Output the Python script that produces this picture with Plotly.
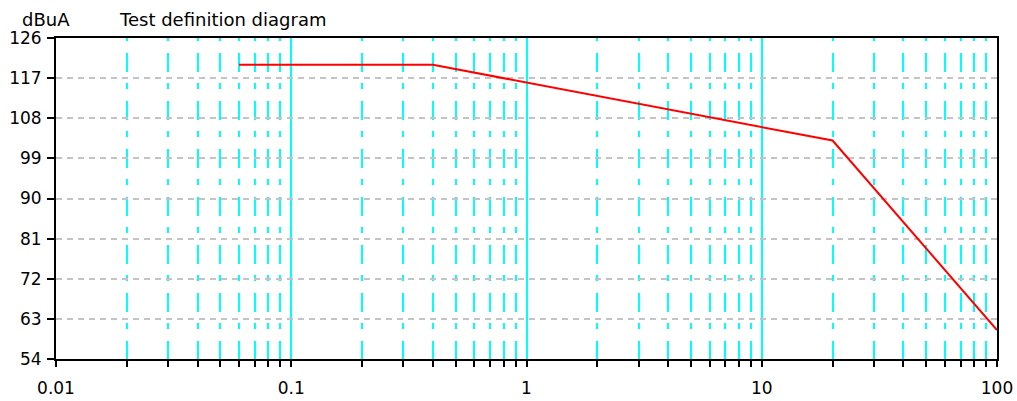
import plotly.graph_objects as go

# Data
freq = [0.06, 0.4, 20, 100]
level = [120, 120, 103, 60.5]

y_ticks = [54, 63, 72, 81, 90, 99, 108, 117, 126]
x_ticks = [0.01, 0.1, 1, 10, 100]
x_tick_labels = ["0.01", "0.1", "1", "10", "100"]
x_minor = [m * d for d in (0.01, 0.1, 1, 10) for m in range(2, 10)]

FONT = "DejaVu Sans, Verdana, sans-serif"

fig = go.Figure()
fig.add_trace(go.Scatter(
    x=freq, y=level, mode="lines",
    line=dict(color="#ff0000", width=2),
    showlegend=False, hoverinfo="skip",
))

fig.update_xaxes(
    type="log", range=[-2, 2], automargin=False,
    tickmode="array", tickvals=x_ticks, ticktext=x_tick_labels,
    ticks="outside", ticklen=6, tickwidth=1.5, tickcolor="black",
    ticklabelstandoff=7,
    showgrid=True, gridcolor="#00ffff", gridwidth=1.5,
    showline=True, linecolor="black", linewidth=2, mirror=True,
    zeroline=False,
    tickfont=dict(family=FONT, size=17, color="black"),
    minor=dict(
        tickmode="array", tickvals=x_minor,
        ticks="outside", ticklen=6, tickwidth=1.5, tickcolor="black",
        showgrid=True, gridcolor="#00ffff", gridwidth=1.5,
        griddash="3px,12px,19px,11px,3px,0px",
    ),
)
fig.update_yaxes(
    range=[54, 126], automargin=False,
    tickmode="array", tickvals=y_ticks,
    ticks="outside", ticklen=7, tickwidth=1.5, tickcolor="black",
    ticklabelstandoff=2,
    showgrid=True, gridcolor="#c4c4c4", gridwidth=1.5, griddash="6px,5px",
    showline=True, linecolor="black", linewidth=2, mirror=True,
    zeroline=False,
    tickfont=dict(family=FONT, size=17, color="black"),
)

fig.add_annotation(text="dBuA", xref="paper", yref="paper", x=-0.0383, y=1.0,
                   xanchor="left", yanchor="bottom", yshift=6, showarrow=False,
                   font=dict(family=FONT, size=18, color="black"))
fig.add_annotation(text="Test definition diagram", xref="paper", yref="paper",
                   x=0.0648, y=1.0, xanchor="left", yanchor="bottom", yshift=6,
                   showarrow=False, font=dict(family=FONT, size=18, color="black"))

fig.update_layout(
    width=1017, height=401,
    margin=dict(l=56, r=20, t=38, b=42),
    paper_bgcolor="white", plot_bgcolor="white",
    showlegend=False,
)

fig.write_html("out.html", config={"displayModeBar": False},
               post_script="document.body.style.margin='0';")
